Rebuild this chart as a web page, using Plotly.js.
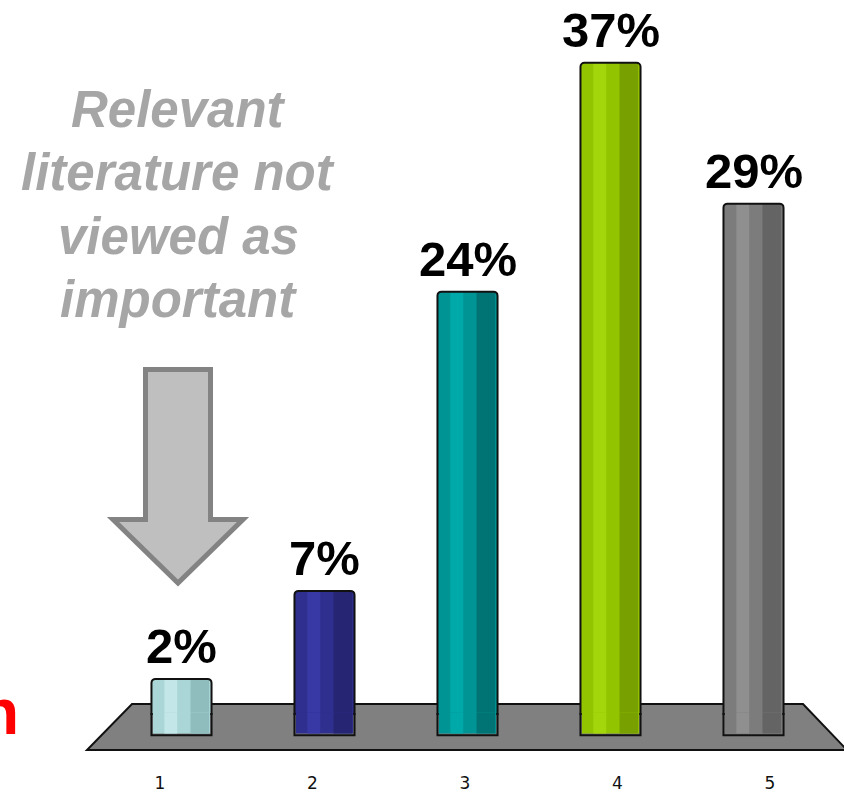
<!DOCTYPE html>
<html>
<head>
<meta charset="utf-8">
<script src="https://cdn.plot.ly/plotly-3.0.1.min.js"></script>
<style>
  html, body { margin: 0; padding: 0; background: #ffffff; }
  #chart { width: 844px; height: 793px; }
</style>
</head>
<body>
<div id="chart"></div>
<script>
// Survey answers 1-5 and the share of respondents for each
const categories = [1, 2, 3, 4, 5];
const tickLabels = ['1', '2', '3', '4', '5'];
const values = [2, 7, 24, 37, 29];

// Cylinder body colours: main tone, lit band, shaded side
const barColors = ['#abd6d7', '#2f2f8f', '#009494', '#93c400', '#7c7c7c'];
const highlightColors = ['#c3e7e8', '#3939a6', '#00a9a9', '#a4d60c', '#8f8f8f'];
const shadeColors = ['#8fbcbd', '#252574', '#007474', '#78a100', '#646464'];

// Callout text beside the first bar
const noteLines = ['Relevant', 'literature not', 'viewed as', 'important'];
const sideWord = 'n';

// Plot-area geometry (pixels) used to place the decorative shapes
const W = 844, H = 793;
const M = { l: 110, r: 19, t: 10, b: 56 };
const plotW = W - M.l - M.r;
const plotH = H - M.t - M.b;
const px = x => (x - M.l) / plotW;
const py = y => (H - M.b - y) / plotH;

// cylinders sink a little into the floor below the zero plane
const FOOT_DEPTH = 1.2;
const footSize = categories.map(() => FOOT_DEPTH);

const BODY = { width: 0.42, offset: -0.21 };
const INNER = { width: 0.40, offset: -0.20 };
const LIT = { width: 0.09, offset: -0.12 };
const SHADE = { width: 0.13, offset: 0.063 };

function bar(extra) {
  return Object.assign({
    type: 'bar', x: categories, hoverinfo: 'skip', showlegend: false
  }, extra);
}
const fillMarker = (c, r) => ({ color: c, line: { width: 0 }, cornerradius: r || 0 });
const outlineMarker = r => ({ color: 'rgba(0,0,0,0)', line: { color: '#111111', width: 2 }, cornerradius: r || 0 });

const traces = [
  // cylinder bodies, zero to value, with a slightly rounded rim
  bar(Object.assign({ y: values, marker: fillMarker(barColors, 4) }, BODY)),
  bar(Object.assign({ y: values, marker: fillMarker(highlightColors) }, LIT)),
  bar(Object.assign({ y: values, marker: fillMarker(shadeColors, 2) }, SHADE)),
  bar(Object.assign({ y: values, marker: outlineMarker(4) }, BODY)),
  // feet below the zero plane
  bar(Object.assign({ y: footSize, base: -FOOT_DEPTH, marker: outlineMarker(0) }, BODY)),
  bar(Object.assign({ y: footSize, base: 0.1 - FOOT_DEPTH, marker: fillMarker(barColors) }, INNER)),
  bar(Object.assign({ y: footSize, base: 0.1 - FOOT_DEPTH, marker: fillMarker(highlightColors) }, LIT)),
  bar(Object.assign({ y: footSize, base: 0.1 - FOOT_DEPTH, marker: fillMarker(shadeColors) }, SHADE)),
  // carries the tick-label axis along the front edge of the floor
  {
    type: 'scatter', mode: 'markers', x: categories, y: values, xaxis: 'x2',
    marker: { opacity: 0 }, hoverinfo: 'skip', showlegend: false
  }
];

function path(points) {
  return 'M ' + points.map(p => px(p[0]) + ',' + py(p[1])).join(' L ') + ' Z';
}

const shapes = [
  // grey floor the cylinders stand on
  {
    type: 'path', xref: 'paper', yref: 'paper', layer: 'below',
    path: path([[132, 704], [803, 704], [847, 750], [87, 750]]),
    fillcolor: '#808080', line: { color: '#111111', width: 2 }
  },
  // block arrow pointing at the first bar
  {
    type: 'path', xref: 'paper', yref: 'paper', layer: 'above',
    path: path([[145.5, 369.5], [210.5, 369.5], [210.5, 519.5], [243, 519.5],
                [178, 583], [113, 519.5], [145.5, 519.5]]),
    fillcolor: '#bfbfbf', line: { color: '#838383', width: 5 }
  }
];

const labelFont = { family: 'Liberation Sans, Arial, sans-serif', size: 49, color: '#000000', weight: 'bold' };
const valueLabels = values.map((v, i) => ({
  x: categories[i], y: v, xref: 'x', yref: 'y',
  text: v + '%', showarrow: false, yanchor: 'bottom', yshift: 4,
  font: labelFont
}));

const noteFont = { family: 'Liberation Sans, Arial, sans-serif', size: 51, color: '#a6a6a6',
                   weight: 'bold', style: 'italic' };
const NOTE_TOP = 79, NOTE_STEP = 63.3;
const noteLabels = noteLines.map((line, i) => ({
  xref: 'paper', yref: 'paper', x: px(178), y: py(NOTE_TOP + i * NOTE_STEP),
  xanchor: 'center', yanchor: 'top', text: line, showarrow: false, font: noteFont
}));

const annotations = valueLabels.concat(noteLabels, [
  {
    xref: 'paper', yref: 'paper', x: px(21), y: py(750),
    xanchor: 'right', yanchor: 'bottom',
    text: sideWord, showarrow: false,
    font: { family: 'Liberation Sans, Arial, sans-serif', size: 64, color: '#ff0000', weight: 'bold' }
  }
]);

const layout = {
  width: W, height: H,
  margin: M,
  paper_bgcolor: '#ffffff', plot_bgcolor: '#ffffff',
  barmode: 'overlay',
  xaxis: {
    range: [0.5, 5.5], showticklabels: false, showgrid: false,
    zeroline: false, showline: false, ticks: ''
  },
  xaxis2: {
    overlaying: 'x', anchor: 'y', side: 'bottom',
    range: [0.672, 5.361],
    tickmode: 'array', tickvals: categories, ticktext: tickLabels,
    showgrid: false, zeroline: false, showline: false, ticks: '',
    ticklabelstandoff: 34,
    tickfont: { family: 'DejaVu Sans, sans-serif', size: 17, color: '#111111' }
  },
  yaxis: { range: [-1.3, 40], visible: false, fixedrange: true },
  shapes: shapes,
  annotations: annotations
};

Plotly.newPlot('chart', traces, layout, { staticPlot: true, displayModeBar: false });
</script>
</body>
</html>
